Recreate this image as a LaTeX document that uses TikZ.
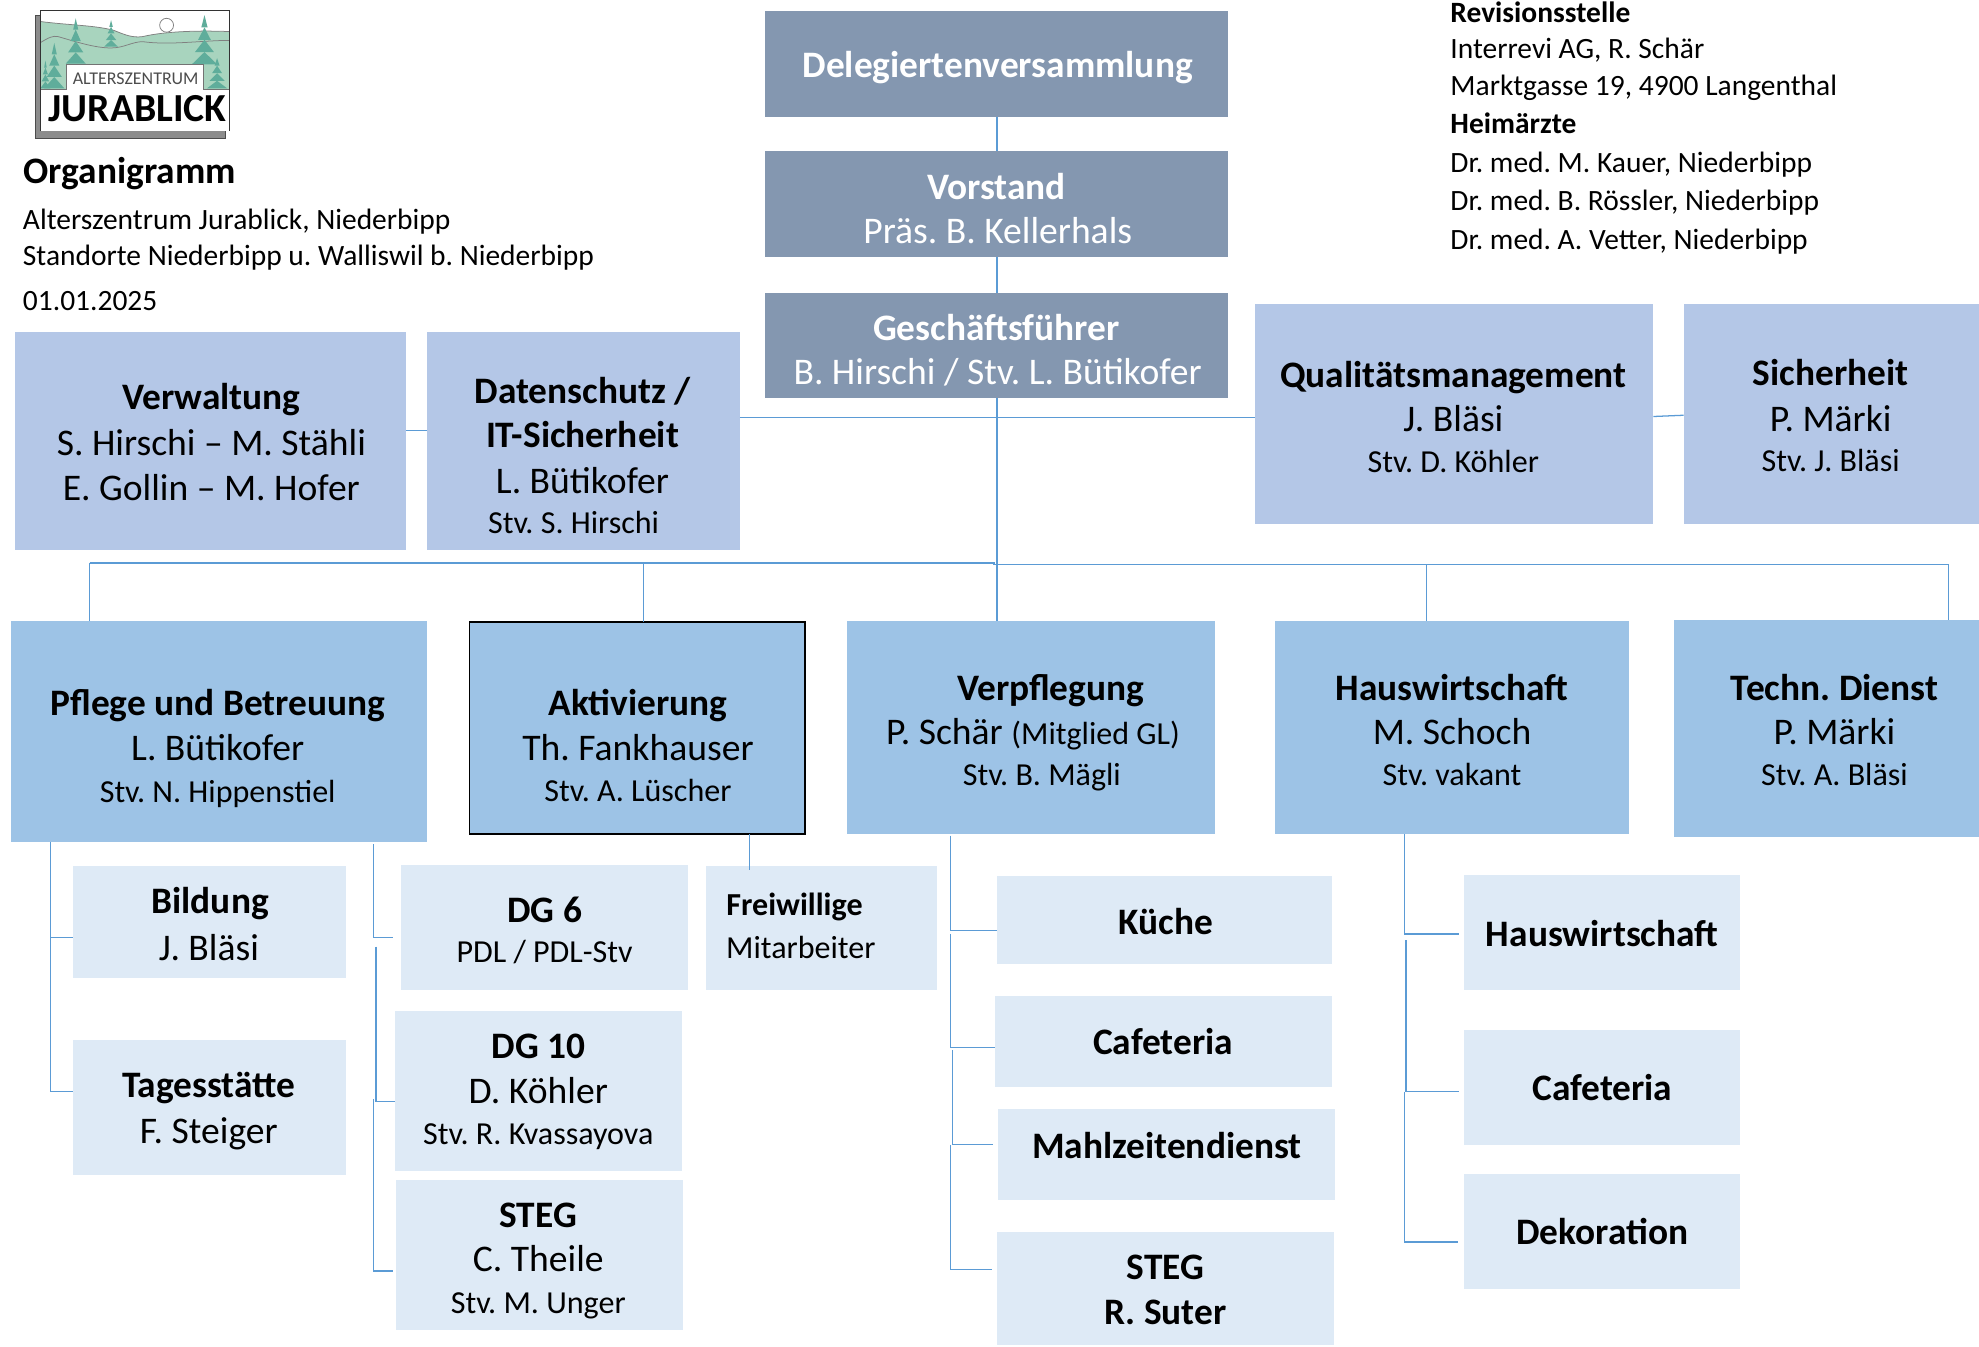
\documentclass[tikz,border=0pt]{standalone}
\usepackage{fontspec}
\setmainfont{Carlito}
\frenchspacing
\definecolor{slatebox}{HTML}{8497B0}
\definecolor{midbox}{HTML}{B4C7E7}
\definecolor{deptbox}{HTML}{9DC3E6}
\definecolor{palebox}{HTML}{DEEAF6}
\definecolor{linkblue}{HTML}{5B9BD5}
\definecolor{logogreen}{HTML}{A8D4BE}
\definecolor{logotree}{HTML}{5FAD9B}
\newcommand\fsH{\fontsize{29.6}{32}\selectfont\bfseries}
\newcommand\fsN{\fontsize{29.8}{32}\selectfont}
\newcommand\fsS{\fontsize{25.4}{28}\selectfont}
\newcommand\fsT{\fontsize{23.35}{26}\selectfont}
% one text line inside a box: absolute x centre, absolute baseline
\newcommand\tl[4]{\pgfmathsetlengthmacro\tldx{(#1+0.5-\bcx)*1pt}\pgfmathsetlengthmacro\tldy{(\bcy-#2-0.7)*1pt}%
  \raisebox{\tldy}[0pt][0pt]{\makebox[0pt][l]{\hspace*{\tldx}\makebox[0pt][c]{#3\relax #4}}}}
\newcommand\orgbox[7]{%
  \pgfmathsetmacro\bcx{(#2+#4)/2}\pgfmathsetmacro\bcy{(#3+#5)/2}%
  \pgfmathsetmacro\bw{#4-#2}\pgfmathsetmacro\bh{#5-#3}%
  \node[#6,minimum width=\bw pt,minimum height=\bh pt] (#1) at (\bcx,\bcy) {#7};}
\tikzset{
  slate/.style={fill=slatebox,inner sep=0pt,text=white,outer sep=0pt},
  mid/.style={fill=midbox,inner sep=0pt,outer sep=0pt},
  dept/.style={fill=deptbox,inner sep=0pt,outer sep=0pt},
  pale/.style={fill=palebox,inner sep=0pt,outer sep=0pt},
  link/.style={draw=linkblue,line width=1pt},
  plain/.style={anchor=base west,inner sep=0pt},
}
\begin{document}
\begin{tikzpicture}[x=1pt,y=-1pt]
\useasboundingbox (0,0) rectangle (1568,1066.5);
% logo
\fill[black!45] (28,12) rectangle (178.5,110);
\draw[black!70,line width=.6pt] (28,12) rectangle (178.5,110);
\fill[white] (31.7,8) rectangle (182,104);
\fill[logogreen] (31.7,17) .. controls (55,20) and (75,20) .. (90,24) .. controls (100,28) and (105,30) .. (113,29) .. controls (130,25) and (155,24) .. (182,25) -- (182,71) -- (31.7,71) -- cycle;
\draw[black!50,line width=.6pt] (31.7,17) .. controls (55,20) and (75,20) .. (90,24) .. controls (100,28) and (105,30) .. (113,29) .. controls (130,25) and (155,24) .. (182,25);
\draw[black!50,line width=.6pt] (31.7,34) .. controls (38,30) and (42,28) .. (46,29) .. controls (60,33) and (75,38) .. (88,38) .. controls (98,38) and (105,33) .. (113,33) .. controls (135,36) and (160,32) .. (182,32);
\foreach \tx/\ty/\tw/\th in {60/14.5/8/36,88/16/5.5/21,43/34/8/36,162/12/10/39,172/46/8/24,36/48/4/22}{
  \foreach \k in {0,1,2,3}{
    \fill[logotree] (\tx,{\ty+\k*\th/4}) -- ({\tx+\tw*(\k+1)/4},{\ty+(\k+1)*\th/4}) -- ({\tx-\tw*(\k+1)/4},{\ty+(\k+1)*\th/4}) -- cycle;
  }
}
\draw[black!50,fill=white,line width=.6pt] (132,20) circle (5.5);
\fill[white] (31.7,71) rectangle (182,104);
\fill[white] (52.7,51) rectangle (161,71);
\draw[black!55,line width=.6pt] (31.7,71) -- (52.7,71) -- (52.7,51) -- (161,51) -- (161,71) -- (182,71);
\draw[black!80,line width=.7pt] (31.7,104) -- (31.7,8) -- (182,8) -- (182,104);
\node[inner sep=0pt,text=black!70] (logotop) at (107.5,62) {\fontsize{14.2}{16}\selectfont ALTERSZENTRUM};
\node[inner sep=0pt] (logomain) at (109,86) {\fontsize{31.5}{33}\selectfont\bfseries JURABLICK};
% header texts
\node[plain] (titel) at (18.5,145.7) {\fontsize{29.6}{32}\selectfont\bfseries Organigramm};
\node[plain] (sub1) at (18,181.7) {\fsT Alterszentrum Jurablick, Niederbipp};
\node[plain] (sub2) at (18,210.7) {\fsT Standorte Niederbipp u. Walliswil b. Niederbipp};
\node[plain] (sub3) at (18,245.7) {\fsT 01.01.2025};
\node[plain] (rev1) at (1149,17.7) {\fsT\bfseries Revisionsstelle};
\node[plain] (rev2) at (1149,46.7) {\fsT Interrevi AG, R. Schär};
\node[plain] (rev3) at (1149,75.7) {\fsT Marktgasse 19, 4900 Langenthal};
\node[plain] (arzt0) at (1149,105.5) {\fsT\bfseries Heimärzte};
\node[plain] (arzt1) at (1149,136.5) {\fsT Dr. med. M. Kauer, Niederbipp};
\node[plain] (arzt2) at (1149,167) {\fsT Dr. med. B. Rössler, Niederbipp};
\node[plain] (arzt3) at (1149,197.5) {\fsT Dr. med. A. Vetter, Niederbipp};
% boxes
\orgbox{dv}{606}{9}{973}{93}{slate}{\tl{790}{61}{\fsH}{Delegiertenversammlung}}
\orgbox{vs}{606}{120}{973}{204}{slate}{\tl{789}{157}{\fsH}{Vorstand}\tl{790}{192}{\fsN}{Präs. B. Kellerhals}}
\orgbox{gf}{606}{232}{973}{315}{slate}{\tl{789}{269}{\fsH}{Geschäftsführer}\tl{790}{304}{\fsN}{B. Hirschi / Stv. L. Bütikofer}}
\orgbox{verw}{12}{263}{322}{436}{mid}{\tl{167}{324}{\fsH}{Verwaltung}\tl{167}{360}{\fsN}{S. Hirschi – M. Stähli}\tl{167}{396}{\fsN}{E. Gollin – M. Hofer}}
\orgbox{daten}{338}{263}{586}{436}{mid}{\tl{461}{319}{\fsH}{Datenschutz /}\tl{461}{354}{\fsH}{IT-Sicherheit}\tl{461}{390}{\fsN}{L. Bütikofer}\tl{454}{422}{\fsS}{Stv. S. Hirschi}}
\orgbox{qm}{994}{241}{1310}{415.5}{mid}{\tl{1151}{306}{\fsH}{Qualitätsmanagement}\tl{1151}{341}{\fsN}{J. Bläsi}\tl{1151}{374}{\fsS}{Stv. D. Köhler}}
\orgbox{sich}{1334}{241}{1568}{415.5}{mid}{\tl{1450}{305}{\fsH}{Sicherheit}\tl{1450}{341}{\fsN}{P. Märki}\tl{1450}{373}{\fsS}{Stv. J. Bläsi}}
\orgbox{pflege}{9}{492}{338}{667}{dept}{\tl{172}{566}{\fsH}{Pflege und Betreuung}\tl{172}{602}{\fsN}{L. Bütikofer}\tl{172}{635}{\fsS}{Stv. N. Hippenstiel}}
\orgbox{akt}{372}{492.5}{638}{661}{dept,draw=black,line width=1.5pt}{\tl{505}{566}{\fsH}{Aktivierung}\tl{505}{602}{\fsN}{Th. Fankhauser}\tl{505}{634}{\fsS}{Stv. A. Lüscher}}
\orgbox{verpf}{671}{492}{963}{661}{dept}{\tl{832}{554}{\fsH}{Verpflegung}\tl{818}{589}{\fsN}{P. Schär {\fsS(Mitglied GL)}}\tl{825}{622}{\fsS}{Stv. B. Mägli}}
\orgbox{hausw}{1010}{492}{1291}{661}{dept}{\tl{1150}{554}{\fsH}{Hauswirtschaft}\tl{1150}{589}{\fsN}{M. Schoch}\tl{1150}{622}{\fsS}{Stv. vakant}}
\orgbox{techn}{1326}{491}{1568}{663}{dept}{\tl{1453}{554}{\fsH}{Techn. Dienst}\tl{1453}{589}{\fsN}{P. Märki}\tl{1453}{622}{\fsS}{Stv. A. Bläsi}}
\orgbox{bild}{58}{686}{274}{775}{pale}{\tl{166}{723}{\fsH}{Bildung}\tl{165}{760}{\fsN}{J. Bläsi}}
\orgbox{tages}{58}{824}{274}{931}{pale}{\tl{165}{869}{\fsH}{Tagesstätte}\tl{165}{905}{\fsN}{F. Steiger}}
\orgbox{dgs}{318}{685}{545}{784}{pale}{\tl{431}{730}{\fsH}{DG 6}\tl{431}{762}{\fsS}{PDL / PDL-Stv}}
\orgbox{dgz}{313}{801}{540}{928}{pale}{\tl{426}{838}{\fsH}{DG 10}\tl{426}{874}{\fsN}{D. Köhler}\tl{426}{906}{\fsS}{Stv. R. Kvassayova}}
\orgbox{stega}{314}{935}{541}{1054}{pale}{\tl{426}{972}{\fsH}{STEG}\tl{426}{1007}{\fsN}{C. Theile}\tl{426}{1040}{\fsS}{Stv. M. Unger}}
\orgbox{frei}{559}{686}{742}{784}{pale}{\tl{629}{725}{\fsS\bfseries}{Freiwillige}\tl{634}{759}{\fsS}{Mitarbeiter}}
\orgbox{kueche}{790}{694}{1055}{764}{pale}{\tl{923}{740}{\fsH}{Küche}}
\orgbox{cafa}{788}{789}{1055}{861}{pale}{\tl{921}{835}{\fsH}{Cafeteria}}
\orgbox{mahl}{791}{879}{1058}{951}{pale}{\tl{924}{917}{\fsH}{Mahlzeitendienst}}
\orgbox{stegb}{790}{976}{1057}{1066}{pale}{\tl{923}{1013}{\fsH}{STEG}\tl{923}{1049}{\fsH}{R. Suter}}
\orgbox{hwz}{1160}{693}{1379}{784}{pale}{\tl{1269}{749}{\fsH}{Hauswirtschaft}}
\orgbox{cafb}{1160}{816}{1379}{907}{pale}{\tl{1269}{871}{\fsH}{Cafeteria}}
\orgbox{deko}{1160}{930}{1379}{1021}{pale}{\tl{1269}{985}{\fsH}{Dekoration}}
% junctions
\coordinate (trunk) at (790,331);
\coordinate (busl) at (71,446);
\coordinate (busm) at (510,446);
\coordinate (busc) at (790,446);
\coordinate (busq) at (1130,447);
\coordinate (busr) at (1544,447);
\coordinate (pl) at (40,667);
\coordinate (plA) at (40,743);
\coordinate (plB) at (40,865);
\coordinate (prA) at (296,669);
\coordinate (prB) at (296,743);
\coordinate (prC) at (298,750);
\coordinate (prD) at (298,873);
\coordinate (prE) at (296,871);
\coordinate (prF) at (296,1007);
\coordinate (vA) at (753,662);
\coordinate (vB) at (753,737);
\coordinate (vC) at (753,740);
\coordinate (vD) at (753,830);
\coordinate (vE) at (754.5,832);
\coordinate (vF) at (754.5,907);
\coordinate (vG) at (753,907);
\coordinate (vH) at (753,1006);
\coordinate (hA) at (1113,661);
\coordinate (hB) at (1113,740);
\coordinate (hC) at (1114,745);
\coordinate (hD) at (1114,865);
\coordinate (hE) at (1113,865);
\coordinate (hF) at (1113,984);
\coordinate (frtop) at (594,661);
\coordinate (frend) at (594,689);
% connectors
\draw[link] (dv.south -| trunk) -- (vs.north -| trunk);
\draw[link] (vs.south -| trunk) -- (gf.north -| trunk);
\draw[link] (gf.south -| trunk) -- (verpf.north -| trunk);
\draw[link] (daten.east |- trunk) -- (qm.west |- trunk);
\draw[link] (verw.east |- 0,341) -- (daten.west |- 0,341);
\draw[link] (qm.east |- 0,330) -- (sich.west |- 0,329);
\draw[link] (busl) -- (788,446);
\draw[link] (787,447) -- (busr);
\draw[link] (busl) -- (pflege.north -| busl);
\draw[link,line width=.7pt] (busm) -- (akt.north -| busm);
\draw[link] (busq) -- (hausw.north -| busq);
\draw[link] (busr) -- (techn.north -| busr);
\draw[link] (pl) -- (plB) -- (tages.west |- plB);
\draw[link] (plA) -- (bild.west |- plA);
\draw[link] (prA) -- (prB) -- ++(15,0);
\draw[link] (prC) -- (prD) -- (dgz.west |- prD);
\draw[link] (prE) -- (prF) -- ++(15,0);
\draw[link] (frtop) -- (frend);
\draw[link] (vA) -- (vB) -- (kueche.west |- vB);
\draw[link] (vC) -- (vD) -- (cafa.west |- vD);
\draw[link] (vE) -- (vF) -- ++(32,0);
\draw[link] (vG) -- (vH) -- ++(33,0);
\draw[link] (hA) -- (hB) -- ++(43,0);
\draw[link] (hC) -- (hD);
\draw[link] (hE) -- ++(43,0);
\draw[link] (hE) -- (hF) -- ++(42,0);
\end{tikzpicture}
\end{document}
